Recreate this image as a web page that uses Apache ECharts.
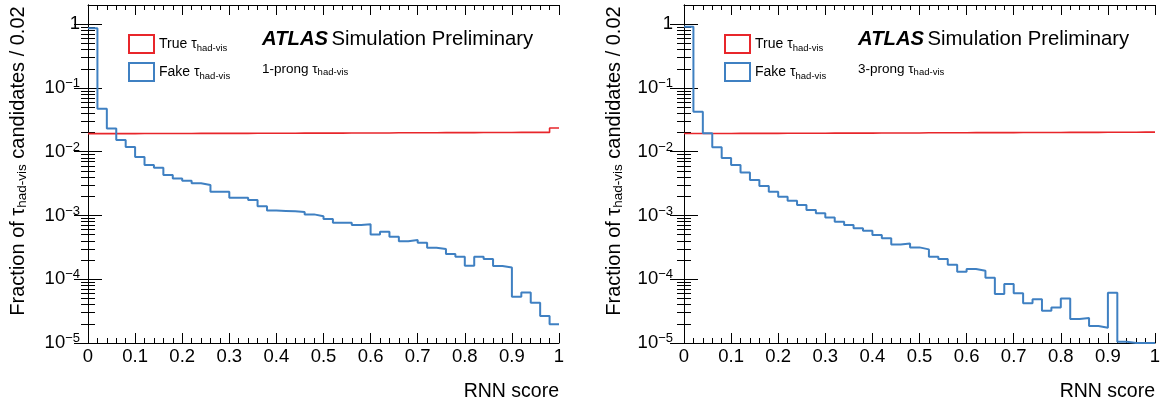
<!DOCTYPE html>
<html>
<head>
<meta charset="utf-8">
<script src="https://cdn.jsdelivr.net/npm/echarts@6/dist/echarts.min.js"></script>
<style>
html,body{margin:0;padding:0;background:#fff;}
#c{width:1173px;height:408px;}
</style>
</head>
<body>
<div id="c"></div>
<script>
// ---------------- data ----------------
const binWidth = 0.02;
const seriesNames = ['True', 'Fake'];
const panelNotes = ['1-prong', '3-prong'];

const leftTrue = [0.0192,0.0192,0.0192,0.0192,0.0192,0.0193,0.0193,0.0193,0.0193,0.0193,
                  0.0193,0.0194,0.0194,0.0194,0.0194,0.0194,0.0194,0.0195,0.0195,0.0195,
                  0.0195,0.0195,0.0196,0.0196,0.0196,0.0196,0.0196,0.0197,0.0197,0.0197,
                  0.0197,0.0197,0.0198,0.0198,0.0198,0.0198,0.0198,0.0199,0.0199,0.0199,
                  0.0199,0.0200,0.0200,0.0200,0.0200,0.0201,0.0201,0.0201,0.0201,0.0236];
const leftFake = [0.86,0.047,0.0232,0.0152,0.0119,0.0083,0.0062,0.0056,0.0043,0.0038,
                  0.0035,0.0032,0.0030,0.00236,0.00236,0.0019,0.0019,0.00175,0.0014,0.0012,
                  0.00118,0.00116,0.00113,0.00104,0.00097,0.00088,0.00077,0.00077,0.00071,0.00073,
                  0.000505,0.000556,0.000463,0.000393,0.000412,0.000373,0.000312,0.000297,0.000248,0.000225,
                  0.000163,0.000225,0.000207,0.000161,0.000153,0.0000532,0.0000622,0.0000429,0.0000265,0.0000196];
const rightTrue = [0.0193,0.0193,0.0193,0.0193,0.0193,0.0194,0.0194,0.0194,0.0194,0.0194,
                   0.0195,0.0195,0.0195,0.0195,0.0195,0.0196,0.0196,0.0196,0.0196,0.0196,
                   0.0197,0.0197,0.0197,0.0197,0.0197,0.0198,0.0198,0.0198,0.0198,0.0198,
                   0.0199,0.0199,0.0199,0.0199,0.0199,0.0200,0.0200,0.0200,0.0200,0.0200,
                   0.0201,0.0201,0.0201,0.0201,0.0202,0.0202,0.0202,0.0202,0.0203,0.0203];
const rightFake = [0.91,0.0423,0.0194,0.0117,0.0080,0.0062,0.0047,0.0036,0.0029,0.00236,
                   0.00196,0.0017,0.00146,0.00122,0.00108,0.00093,0.00080,0.00071,0.00063,0.000575,
                   0.000493,0.000438,0.000352,0.000365,0.000316,0.000294,0.000225,0.000207,0.000169,0.000131,
                   0.000145,0.000136,0.000106,0.0000586,0.0000841,0.0000601,0.0000419,0.0000484,0.0000321,0.0000362,
                   0.0000501,0.0000238,0.0000247,0.0000185,0.0000174,0.0000615,0.0000105,0.00001,0.00001,0.00001];

const xMin = 0, xMax = 1, xInterval = 0.1;
const yMin = 1e-5, yMax = 2;
const yMajorTicks = [1e-5, 1e-4, 1e-3, 1e-2, 1e-1, 1];
const yTickExponents = ['\u22125', '\u22124', '\u22123', '\u22122', '\u22121', ''];

// ---------------- styles ----------------
const RED = '#e8262b';
const BLUE = '#3f80c2';
const FONT = 'Liberation Sans, Arial, Helvetica, sans-serif';
const panelLeft = [88, 684];
const gridTop = 5, gridW = 471, gridH = 338;
const MINOR_COLOR = '#000';

function toSteps(vals) {
  const pts = vals.map((v, i) => [+(i * binWidth).toFixed(2), v]);
  pts.push([xMax, vals[vals.length - 1]]);
  return pts;
}
function yLabel(v) {
  const idx = yMajorTicks.findIndex(t => Math.abs(Math.log10(t) - Math.log10(v)) < 1e-6);
  if (idx < 0) return '';
  if (yTickExponents[idx] === '') return '{b|1}';
  return '{b|10}{s|' + yTickExponents[idx] + '}';
}

const grid = [], xAxis = [], yAxis = [], series = [], legend = [], graphic = [];
const axisLineStyle = { color: '#000', width: 1 };
const panels = [
  { fake: leftFake, tru: leftTrue },
  { fake: rightFake, tru: rightTrue }
];

panels.forEach((p, k) => {
  const L = panelLeft[k];
  grid.push({ left: L, top: gridTop, width: gridW, height: gridH });
  const g = k;
  const xBase = xAxis.length, yBase = yAxis.length;
  const xCommon = {
    type: 'value', min: xMin, max: xMax, interval: xInterval,
    splitLine: { show: false },
    axisLine: { show: true, lineStyle: axisLineStyle },
    axisTick: { show: true, inside: true, length: 10, lineStyle: { color: '#000', width: 1 } },
    minorTick: { show: true, splitNumber: 5, length: 5, lineStyle: { color: '#000', width: 1 } }
  };
  xAxis.push(Object.assign({}, xCommon, {
    gridIndex: g, position: 'bottom',
    axisLabel: { show: true, fontSize: 18.5, fontFamily: FONT, color: '#000', margin: 4,
      formatter: v => String(+v.toFixed(1)) }
  }));
  xAxis.push(Object.assign({}, xCommon, { gridIndex: g, position: 'top', axisLabel: { show: false } }));

  const yCommon = {
    type: 'log', logBase: 10, min: yMin, max: yMax, splitLine: { show: false },
    axisLine: { show: true, lineStyle: axisLineStyle },
    axisTick: { show: true, inside: true, length: 14, customValues: yMajorTicks, lineStyle: { color: '#000', width: 1 } },
    minorTick: { show: true, splitNumber: 9, length: 7, lineStyle: { color: MINOR_COLOR, width: 1 } },
    minorSplitLine: { show: false }
  };
  yAxis.push(Object.assign({}, yCommon, {
    gridIndex: g, position: 'left',
    axisLabel: { show: true, customValues: yMajorTicks, margin: k === 0 ? 8 : 11, formatter: yLabel,
      color: '#000', fontFamily: FONT,
      rich: { b: { fontSize: 18.5, lineHeight: 22, fontFamily: FONT, color: '#000' },
              s: { fontSize: 13, lineHeight: 13, verticalAlign: 'top', fontFamily: FONT, color: '#000' } } }
  }));
  yAxis.push(Object.assign({}, yCommon, { gridIndex: g, position: 'right', axisLabel: { show: false } }));

  series.push({
    name: seriesNames[0], type: 'line', step: 'end', xAxisIndex: xBase, yAxisIndex: yBase,
    data: toSteps(p.tru), symbol: 'none', clip: true,
    lineStyle: { color: RED, width: 1.6 }, itemStyle: { color: RED }
  });
  series.push({
    name: seriesNames[1], type: 'line', step: 'end', xAxisIndex: xBase, yAxisIndex: yBase,
    data: toSteps(p.fake), symbol: 'none', clip: true,
    lineStyle: { color: BLUE, width: 2 }, itemStyle: { color: BLUE }
  });

  legend.push({
    orient: 'vertical', left: L + 40, top: 34, padding: 0, itemWidth: 25, itemHeight: 18, itemGap: 8,
    selectedMode: false, icon: 'rect',
    data: [
      { name: seriesNames[0], itemStyle: { color: 'rgba(0,0,0,0)', borderColor: RED, borderWidth: 2 } },
      { name: seriesNames[1], itemStyle: { color: 'rgba(0,0,0,0)', borderColor: BLUE, borderWidth: 2 } }
    ],
    formatter: n => '{n|' + n + ' \u03c4}{s|had-vis}',
    textStyle: { color: '#000', fontFamily: FONT,
      rich: { n: { fontSize: 14, lineHeight: 18, fontFamily: FONT, color: '#000' },
              s: { fontSize: 9.5, lineHeight: 10, verticalAlign: 'bottom', fontFamily: FONT, color: '#000' } } }
  });

  graphic.push({
    type: 'text', x: L + 174, y: 39.5,
    style: { text: '{a|ATLAS} {b|Simulation Preliminary}', align: 'left', verticalAlign: 'middle',
      rich: { a: { fontSize: 20.3, fontWeight: 'bold', fontStyle: 'italic', fontFamily: FONT, fill: '#000', lineHeight: 22 },
              b: { fontSize: 20.3, fontFamily: FONT, fill: '#000', lineHeight: 22 } } }
  });
  graphic.push({
    type: 'text', x: L + 174, y: 69,
    style: { text: '{n|' + panelNotes[k] + ' \u03c4}{s|had-vis}', align: 'left', verticalAlign: 'middle',
      rich: { n: { fontSize: 13.5, lineHeight: 17, fontFamily: FONT, fill: '#000' },
              s: { fontSize: 9.5, lineHeight: 10, verticalAlign: 'bottom', fontFamily: FONT, fill: '#000' } } }
  });
  graphic.push({
    type: 'text', x: L + gridW, y: 391.5,
    style: { text: 'RNN score', align: 'right', verticalAlign: 'middle', fontSize: 19.5, fontFamily: FONT, fill: '#000' }
  });
  graphic.push({
    type: 'text', x: L - 70, y: 161, rotation: Math.PI / 2,
    style: { text: '{n|Fraction of \u03c4}{s|had-vis}{n| candidates / 0.02}', align: 'center', verticalAlign: 'middle',
      rich: { n: { fontSize: 20, lineHeight: 22, fontFamily: FONT, fill: '#000' },
              s: { fontSize: 13.5, lineHeight: 13, verticalAlign: 'bottom', fontFamily: FONT, fill: '#000' } } }
  });
});

const chart = echarts.init(document.getElementById('c'), null, { renderer: 'canvas' });
chart.setOption({
  animation: false,
  backgroundColor: '#fff',
  grid, xAxis, yAxis, series, legend, graphic
});
</script>
</body>
</html>
